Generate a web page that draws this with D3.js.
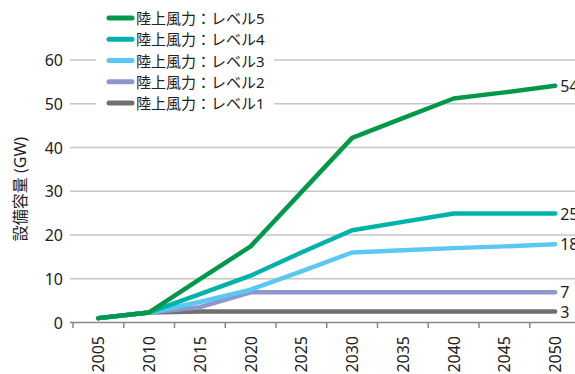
<!DOCTYPE html>
<html><head><meta charset="utf-8">
<script src="https://cdn.jsdelivr.net/npm/d3@7"></script>
<style>
body{margin:0;background:#fff;}
svg{display:block;font-family:"Noto Sans","Noto Sans CJK JP",sans-serif;}
</style></head><body>
<svg id="c" width="575" height="374"></svg>
<script>
const years = ["2005","2010","2015","2020","2025","2030","2035","2040","2045","2050"];
const seriesNames = ["陸上風力：レベル5","陸上風力：レベル4","陸上風力：レベル3","陸上風力：レベル2","陸上風力：レベル1"];
const level5 = [1.0, 2.3, 9.9, 17.4, 29.8, 42.2, 46.7, 51.2, 52.6, 54.1];
const level4 = [1.0, 2.3, 6.5, 10.7, 16.0, 21.1, 23.0, 24.9, 24.9, 24.9];
const level3 = [1.0, 2.3, 4.7, 7.5, 11.7, 16.0, 16.5, 17.0, 17.4, 17.9];
const level2 = [1.0, 2.3, 3.5, 6.9, 6.9, 6.9, 6.9, 6.9, 6.9, 6.9];
const level1 = [1.0, 2.3, 2.5, 2.5, 2.5, 2.5, 2.5, 2.5, 2.5, 2.5];
const endLabels = ["54","25","18","7","3"];
const yTicks = [0,10,20,30,40,50,60];
const colors = ["#00994A","#00B2AA","#5BC8F2","#8E96CC","#707070"];
const yTitle = "設備容量 (GW)";

const series = [level5, level4, level3, level2, level1];
const svg = d3.select("#c");
const x = d3.scaleBand().domain(years).range([73, 580.5]);
const y = d3.scaleLinear().domain([0,60]).range([322.5, 60]);
const cx = d => x(d) + x.bandwidth()/2;

// gridlines
svg.append("g").selectAll("line").data(yTicks.filter(d=>d>0)).join("line")
  .attr("x1",70).attr("x2",575).attr("y1",d=>y(d)).attr("y2",d=>y(d))
  .attr("stroke","#c6c6c6").attr("stroke-width",1.5);

// y tick labels
svg.append("g").selectAll("text").data(yTicks).join("text")
  .attr("x",63).attr("y",d=>y(d)).attr("text-anchor","end").attr("dominant-baseline","central")
  .attr("font-size",16).attr("fill","#222").text(d=>d);

// x axis
svg.append("line").attr("x1",70).attr("x2",575).attr("y1",322.5).attr("y2",322.5).attr("stroke","#888").attr("stroke-width",1.5);
svg.append("g").selectAll("line").data(years).join("line")
  .attr("x1",d=>x(d)).attr("x2",d=>x(d)).attr("y1",322.5).attr("y2",328)
  .attr("stroke","#888").attr("stroke-width",1.5);
svg.append("g").selectAll("text").data(years).join("text")
  .attr("transform",d=>`translate(${cx(d)},336) rotate(-90)`)
  .attr("text-anchor","end").attr("dominant-baseline","central")
  .attr("font-size",16).attr("fill","#222").text(d=>d);

// y title
svg.append("text").attr("transform","translate(20,189) rotate(-90)")
  .attr("text-anchor","middle").attr("dominant-baseline","central")
  .attr("font-size",16).attr("fill","#222").text(yTitle);

// lines (draw lowest first)
const line = d3.line().x((d,i)=>cx(years[i])).y(d=>y(d));
for (let k = series.length-1; k >= 0; k--) {
  svg.append("path").datum(series[k]).attr("d",line)
    .attr("fill","none").attr("stroke",colors[k]).attr("stroke-width",4.5)
    .attr("stroke-linejoin","round").attr("stroke-linecap","round");
}
// end labels
svg.append("g").selectAll("text").data(series).join("text")
  .attr("x",cx(years[years.length-1])+5).attr("y",d=>y(d[d.length-1]))
  .attr("dominant-baseline","central").attr("font-size",16).attr("fill","#222")
  .text((d,i)=>endLabels[i]);

// legend
const lg = svg.append("g");
lg.append("rect").attr("x",96).attr("y",6).attr("width",178).attr("height",108).attr("fill","#fff");
const ly = d3.scaleLinear().domain([0,4]).range([18,103]);
seriesNames.forEach((n,i)=>{
  lg.append("line").attr("x1",109).attr("x2",132).attr("y1",ly(i)).attr("y2",ly(i))
    .attr("stroke",colors[i]).attr("stroke-width",5).attr("stroke-linecap","round");
  lg.append("text").attr("x",136).attr("y",ly(i)).attr("dominant-baseline","central")
    .attr("font-size",15).attr("fill","#222").text(n);
});
</script></body></html>
